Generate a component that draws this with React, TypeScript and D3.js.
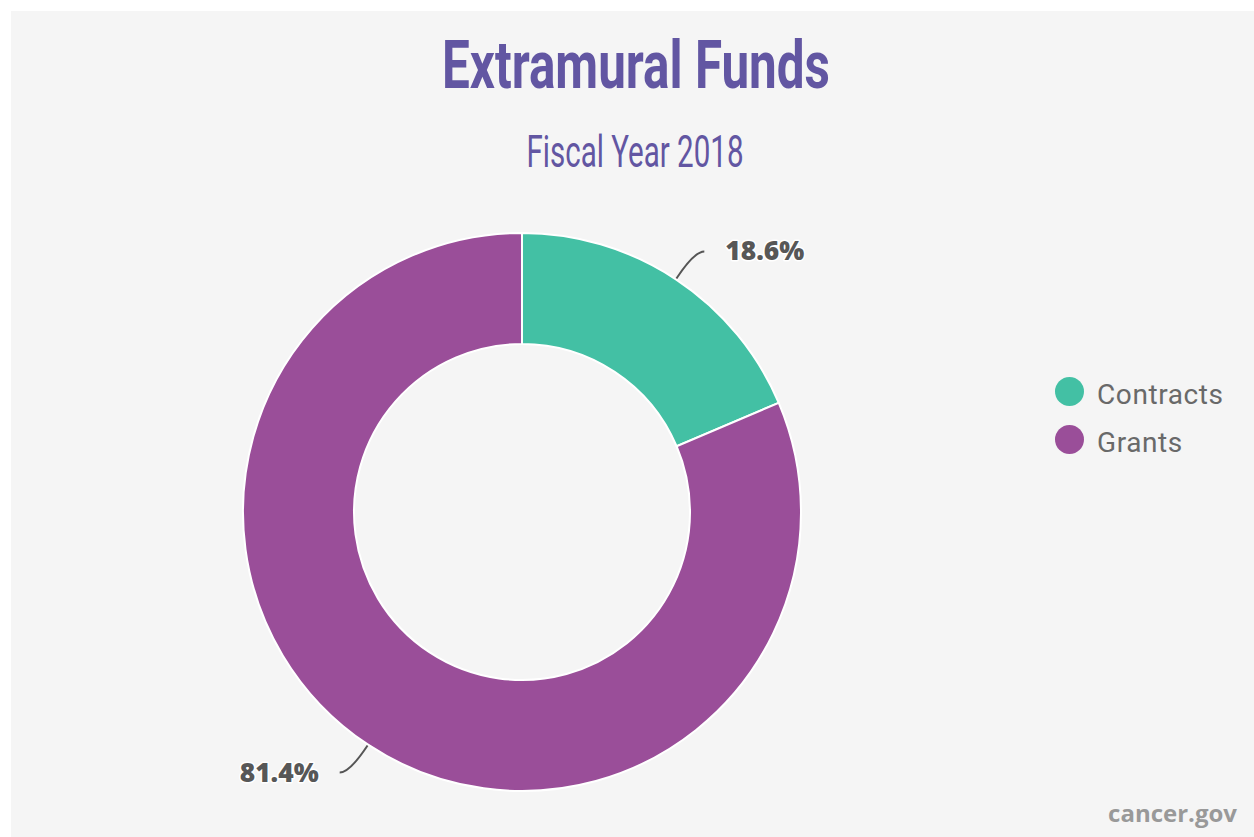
import React from "react";
import * as d3 from "d3";

const categories = ["Contracts", "Grants"];
const values = [18.6, 81.4];
const colors = ["#43c0a4", "#9a4e99"];
const title = "Extramural Funds";
const subtitle = "Fiscal Year 2018";
const source = "cancer.gov";

export default function App() {
  const W = 1254, H = 837;
  const cx = 522, cy = 512, R = 279, r = 168;
  const pie = d3.pie<number>().sort(null).value((d) => d)(values);
  const arc = d3.arc<d3.PieArcDatum<number>>().innerRadius(r).outerRadius(R);
  const total = d3.sum(values);
  return (
    <svg width={W} height={H} style={{ position: "absolute", left: 0, top: 0, display: "block" }}>
      <rect x={0} y={0} width={W} height={H} fill="#ffffff" />
      <rect x={11} y={11} width={W - 11} height={H - 11} fill="#f5f5f5" />
      <text x={636} y={88} textAnchor="middle" fill="#6256a2" fontFamily="Roboto, sans-serif" fontWeight={700} fontSize={67} textLength={388} lengthAdjust="spacingAndGlyphs">{title}</text>
      <text x={635} y={167} textAnchor="middle" fill="#6256a2" fontFamily="Roboto, sans-serif" fontWeight={400} fontSize={45} textLength={217} lengthAdjust="spacingAndGlyphs">{subtitle}</text>
      <g transform={`translate(${cx},${cy})`}>
        {pie.map((p, i) => (
          <path key={categories[i]} d={arc(p) || ""} fill={colors[i]} stroke="#ffffff" strokeWidth={2} />
        ))}
        {pie.map((p, i) => {
          const a = (p.startAngle + p.endAngle) / 2;
          const sx = Math.sin(a), sy = -Math.cos(a);
          const x0 = (R + 1) * sx, y0 = (R + 1) * sy;
          const dy = 27 * Math.sign(sy);
          const cxp = x0 + (sx / Math.abs(sy)) * 27;
          const cyp = y0 + dy;
          const side = sx >= 0 ? 1 : -1;
          const ex = cxp + side * 10;
          const path = d3.path();
          path.moveTo(x0, y0);
          path.quadraticCurveTo(cxp, cyp, ex, cyp);
          const pct = ((values[i] / total) * 100).toFixed(1) + "%";
          return (
            <g key={"lab" + i}>
              <path d={path.toString()} fill="none" stroke="#555555" strokeWidth={2} />
              <text x={ex + side * 21} y={cyp + 9} textAnchor={side > 0 ? "start" : "end"} fill="#575757" fontFamily="'Open Sans', sans-serif" fontWeight={800} fontSize={27} stroke="#ffffff" strokeWidth={3} paintOrder="stroke" strokeLinejoin="round" textLength={79} lengthAdjust="spacingAndGlyphs">{pct}</text>
            </g>
          );
        })}
      </g>
      {categories.map((c, i) => (
        <g key={c} transform={`translate(1069.5,${391.5 + i * 48})`}>
          <circle r={14.5} fill={colors[i]} />
          <text x={27.5} y={12.5} fill="#696969" fontFamily="Roboto, sans-serif" fontWeight={400} fontSize={28} letterSpacing={0.6}>{c}</text>
        </g>
      ))}
      <text x={1237} y={822} textAnchor="end" fill="#999999" fontFamily="'Open Sans', sans-serif" fontWeight={700} fontSize={24}>{source}</text>
    </svg>
  );
}
